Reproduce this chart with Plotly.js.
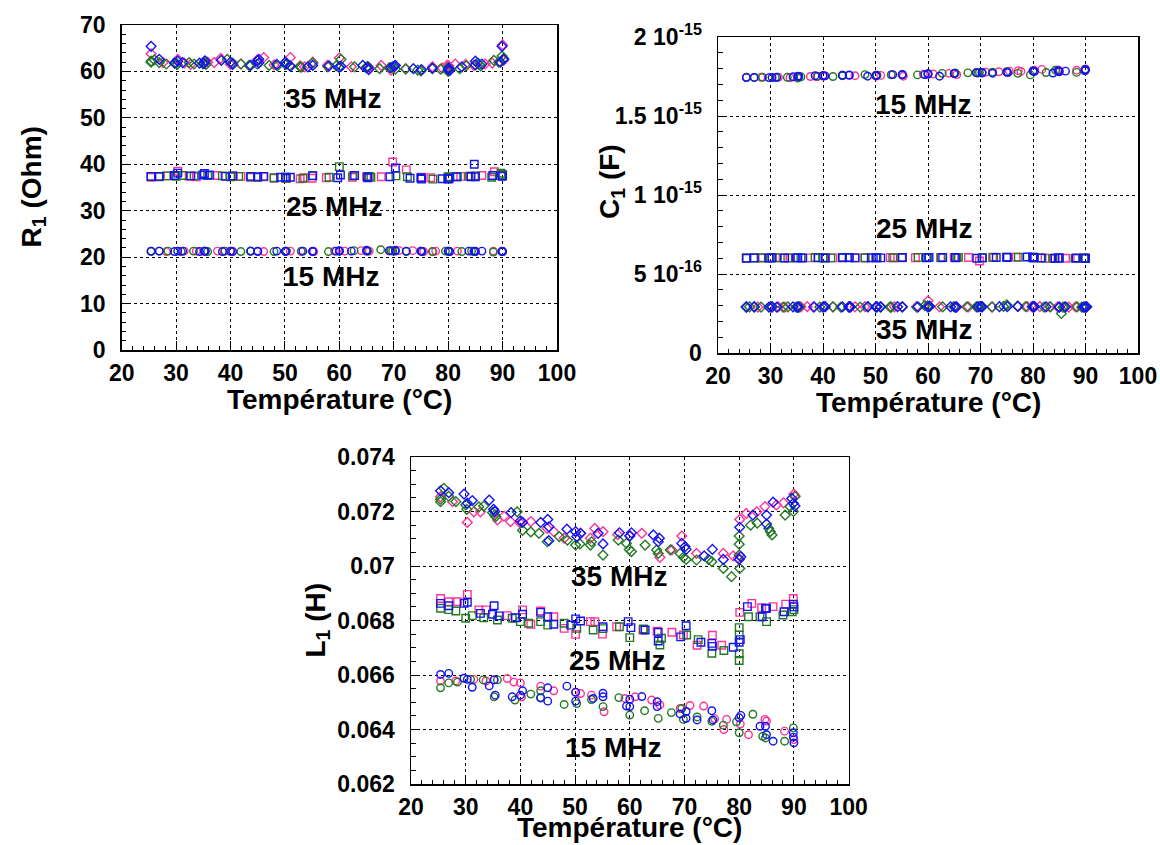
<!DOCTYPE html>
<html>
<head>
<meta charset="utf-8">
<script src="https://cdn.plot.ly/plotly-3.0.1.min.js"></script>
<style>html,body{margin:0;padding:0;background:#fff;}#chart{width:1160px;height:845px;}</style>
</head>
<body>
<div id="chart"></div>
<script>
// ---------- Temperatures (°C) per run (pink / green / blue) and frequency ----------
const T_pink_15  = [25.4, 28.2, 31.5, 33.7, 35.2, 37.6, 38.8, 40.0, 40.2, 43.7, 46.1, 50.1, 51.0, 53.0, 55.3, 59.1, 61.0, 64.0, 65.5, 69.2, 71.0, 73.5, 75.5, 77.2, 77.7, 80.2, 81.7, 85.0, 84.7, 88.3, 90.0];
const T_green_15 = [25.4, 26.9, 28.5, 30.9, 33.2, 35.2, 35.8, 39.0, 41.9, 43.7, 43.7, 48.0, 50.3, 53.0, 55.1, 58.0, 60.0, 62.7, 65.2, 67.6, 69.5, 69.8, 72.3, 75.0, 77.1, 79.5, 80.0, 82.5, 84.3, 84.8, 88.3, 89.9];
const T_blue_15  = [25.4, 26.9, 29.7, 30.3, 31.2, 34.3, 35.2, 35.4, 38.5, 40.0, 40.4, 43.7, 45.0, 45.0, 48.5, 50.1, 50.1, 53.3, 55.1, 55.1, 59.4, 60.0, 60.0, 62.2, 65.0, 65.0, 69.2, 70.3, 70.3, 72.3, 75.0, 75.2, 80.0, 80.3, 83.8, 84.8, 85.0, 86.2, 89.9, 89.9, 90.0];

const T_pink_25  = [25.4, 26.9, 28.5, 30.3, 32.4, 33.7, 37.6, 40.4, 41.9, 43.7, 46.1, 48.0, 50.1, 52.8, 53.6, 55.0, 57.6, 62.4, 65.0, 67.7, 69.8, 72.3, 75.1, 76.8, 80.1, 82.3, 84.1, 86.2, 88.5, 89.9];
const T_green_25 = [25.4, 26.9, 28.2, 30.0, 31.2, 33.3, 35.8, 38.5, 40.0, 41.5, 43.7, 45.0, 48.0, 50.3, 53.3, 55.1, 58.1, 60.0, 62.5, 65.8, 65.5, 70.4, 72.5, 75.0, 77.2, 80.0, 80.0, 80.0, 80.0, 81.7, 83.8, 85.0, 88.0, 89.7, 90.0];
const T_blue_25  = [25.4, 26.9, 29.7, 30.3, 32.7, 34.9, 35.2, 36.1, 39.1, 40.4, 43.7, 45.0, 46.1, 49.2, 50.1, 51.0, 55.1, 59.7, 60.2, 62.8, 65.2, 65.2, 69.3, 70.3, 73.0, 75.0, 75.1, 78.9, 80.0, 80.2, 81.5, 84.2, 84.8, 85.0, 88.2, 89.9, 90.0];

const T_pink_35  = [25.4, 27.6, 30.3, 31.5, 32.7, 35.8, 37.0, 38.2, 40.0, 41.9, 44.9, 46.1, 48.0, 51.0, 52.8, 53.6, 55.1, 57.8, 60.0, 62.2, 65.5, 67.7, 69.5, 72.2, 77.1, 78.9, 79.8, 80.1, 81.3, 83.2, 84.7, 86.8, 88.1, 90.0, 90.2];
const T_green_35 = [25.4, 25.4, 26.0, 26.9, 28.2, 30.0, 30.2, 32.4, 33.3, 34.9, 35.3, 35.5, 39.4, 40.4, 41.9, 43.4, 44.9, 47.1, 48.6, 50.1, 50.9, 52.8, 53.0, 55.1, 57.9, 59.4, 59.9, 60.3, 62.8, 64.9, 65.2, 67.4, 69.2, 69.8, 70.3, 72.2, 74.4, 75.0, 77.1, 78.6, 80.0, 80.0, 80.0, 80.1, 82.1, 83.3, 85.4, 85.7, 86.0, 88.4, 89.3, 89.9, 90.2];
const T_blue_35  = [25.4, 26.9, 29.7, 30.3, 31.2, 34.3, 35.1, 35.3, 38.3, 40.0, 40.4, 43.7, 45.0, 45.2, 45.2, 48.5, 50.1, 50.3, 51.0, 54.2, 55.1, 58.1, 60.0, 60.3, 64.3, 65.2, 65.4, 69.5, 70.1, 70.3, 73.6, 75.1, 77.1, 80.0, 80.1, 80.3, 82.5, 85.0, 85.0, 86.2, 89.6, 89.9, 90.2];

// ---------- R1 (Ohm) ----------
const R1_pink_15  = [21.3, 21.2, 21.3, 21.3, 21.2, 21.3, 21.3, 21.2, 21.3, 21.3, 21.2, 21.3, 21.3, 21.2, 21.2, 21.3, 21.3, 21.4, 21.3, 21.3, 21.4, 21.4, 21.2, 21.2, 21.3, 21.2, 21.3, 21.3, 21.2, 21.3, 21.2];
const R1_green_15 = [21.2, 21.3, 21.3, 21.2, 21.3, 21.3, 21.2, 21.3, 21.2, 21.3, 21.3, 21.2, 21.3, 21.3, 21.2, 21.2, 21.3, 21.4, 21.3, 21.6, 21.4, 21.3, 21.2, 21.3, 21.2, 21.3, 21.3, 21.2, 21.3, 21.2, 21.1, 21.2];
const R1_blue_15  = [21.3, 21.3, 21.2, 21.3, 21.3, 21.2, 21.3, 21.3, 21.2, 21.3, 21.2, 21.3, 21.3, 21.2, 21.3, 21.3, 21.2, 21.3, 21.3, 21.2, 21.3, 21.3, 21.4, 21.3, 21.5, 21.3, 21.4, 21.5, 21.3, 21.3, 21.3, 21.2, 21.3, 21.2, 21.3, 21.3, 21.2, 21.3, 21.2, 21.3, 21.2];
const R1_pink_25  = [37.2, 37.4, 37.5, 38.5, 37.4, 37.3, 37.6, 37.5, 37.4, 37.2, 37.3, 37.0, 37.0, 36.9, 37.1, 37.0, 37.1, 37.2, 37.3, 37.3, 40.5, 38.8, 37.2, 37.1, 37.0, 37.4, 37.5, 37.6, 38.4, 37.6];
const R1_green_25 = [37.4, 37.3, 37.5, 37.4, 37.6, 37.5, 37.6, 37.5, 37.3, 37.4, 37.3, 37.2, 37.1, 37.0, 37.0, 37.6, 37.2, 39.5, 37.5, 37.2, 37.4, 37.5, 37.3, 37.0, 36.8, 37.0, 36.9, 37.3, 37.2, 37.3, 37.4, 37.5, 37.2, 38.1, 37.8];
const R1_blue_25  = [37.4, 37.4, 37.6, 38.1, 37.5, 37.7, 38.0, 37.7, 37.4, 37.5, 37.4, 37.3, 37.4, 37.2, 37.2, 37.2, 37.5, 37.1, 37.7, 37.6, 37.1, 37.3, 37.3, 39.2, 37.0, 37.1, 36.8, 36.9, 36.8, 37.0, 37.3, 37.3, 40.0, 37.3, 37.6, 37.4, 37.5];
const R1_pink_35  = [63.8, 61.9, 62.6, 61.8, 61.5, 62.0, 61.9, 62.8, 61.5, 61.6, 62.5, 63.0, 61.4, 63.0, 61.2, 61.0, 62.0, 61.3, 62.9, 61.0, 60.8, 61.3, 60.3, 60.6, 61.0, 60.7, 61.3, 61.2, 61.6, 61.5, 61.3, 61.6, 61.8, 65.7, 62.4];
const R1_green_35 = [62.2, 62.0, 62.5, 61.9, 61.6, 61.8, 61.5, 61.9, 61.6, 61.7, 62.0, 61.5, 62.6, 61.8, 61.6, 61.3, 61.6, 61.3, 61.2, 61.5, 61.3, 61.0, 60.9, 61.8, 61.0, 61.2, 60.9, 62.6, 61.0, 60.8, 61.1, 60.6, 60.8, 61.0, 60.5, 60.5, 60.3, 60.1, 60.6, 60.5, 60.2, 60.8, 60.0, 60.3, 60.6, 61.2, 61.8, 61.5, 61.2, 62.4, 62.0, 63.3, 62.8];
const R1_blue_35  = [65.4, 62.6, 61.8, 62.2, 61.9, 61.8, 61.7, 62.3, 62.4, 62.0, 61.5, 61.3, 62.3, 61.8, 62.6, 61.5, 62.0, 61.6, 61.1, 61.0, 61.3, 61.2, 60.9, 61.1, 61.3, 60.9, 60.4, 60.8, 61.1, 61.3, 60.6, 60.4, 60.7, 60.4, 60.7, 60.2, 61.0, 62.2, 61.4, 61.6, 62.0, 65.4, 62.6];

// ---------- C1 (in units of 1e-15 F) ----------
const C1_pink_15  = [1.746, 1.745, 1.745, 1.742, 1.746, 1.750, 1.748, 1.752, 1.754, 1.756, 1.755, 1.752, 1.757, 1.762, 1.752, 1.765, 1.766, 1.770, 1.762, 1.775, 1.778, 1.780, 1.784, 1.787, 1.782, 1.790, 1.795, 1.788, 1.792, 1.790, 1.798];
const C1_green_15 = [1.745, 1.744, 1.745, 1.743, 1.745, 1.740, 1.748, 1.752, 1.750, 1.755, 1.758, 1.762, 1.758, 1.760, 1.762, 1.760, 1.768, 1.770, 1.772, 1.773, 1.772, 1.775, 1.778, 1.780, 1.770, 1.760, 1.782, 1.775, 1.790, 1.784, 1.776, 1.795];
const C1_blue_15  = [1.743, 1.744, 1.743, 1.744, 1.745, 1.748, 1.752, 1.750, 1.755, 1.756, 1.754, 1.758, 1.760, 1.757, 1.752, 1.758, 1.755, 1.762, 1.760, 1.763, 1.762, 1.768, 1.764, 1.752, 1.768, 1.770, 1.774, 1.776, 1.772, 1.771, 1.778, 1.775, 1.785, 1.782, 1.772, 1.786, 1.780, 1.784, 1.790, 1.786, 1.793];
const C1_pink_25  = [0.601, 0.602, 0.601, 0.603, 0.602, 0.601, 0.602, 0.603, 0.602, 0.604, 0.603, 0.601, 0.603, 0.604, 0.603, 0.602, 0.603, 0.604, 0.605, 0.604, 0.582, 0.604, 0.605, 0.607, 0.603, 0.600, 0.599, 0.600, 0.600, 0.601];
const C1_green_25 = [0.602, 0.601, 0.603, 0.602, 0.603, 0.602, 0.603, 0.604, 0.603, 0.602, 0.604, 0.603, 0.603, 0.604, 0.603, 0.604, 0.605, 0.604, 0.603, 0.605, 0.604, 0.603, 0.606, 0.607, 0.606, 0.606, 0.605, 0.604, 0.602, 0.601, 0.600, 0.601, 0.599, 0.601, 0.600];
const C1_blue_25  = [0.600, 0.602, 0.601, 0.603, 0.601, 0.602, 0.603, 0.601, 0.602, 0.601, 0.603, 0.604, 0.602, 0.603, 0.603, 0.602, 0.604, 0.603, 0.605, 0.604, 0.604, 0.602, 0.600, 0.602, 0.604, 0.606, 0.605, 0.608, 0.606, 0.603, 0.602, 0.600, 0.601, 0.602, 0.601, 0.600, 0.599];
const C1_pink_35  = [0.292, 0.291, 0.293, 0.292, 0.291, 0.292, 0.293, 0.291, 0.292, 0.292, 0.291, 0.292, 0.293, 0.292, 0.291, 0.292, 0.292, 0.293, 0.330, 0.292, 0.291, 0.292, 0.293, 0.291, 0.296, 0.294, 0.293, 0.292, 0.294, 0.293, 0.292, 0.291, 0.292, 0.293, 0.292];
const C1_green_35 = [0.291, 0.290, 0.292, 0.290, 0.291, 0.292, 0.290, 0.291, 0.292, 0.291, 0.290, 0.292, 0.291, 0.293, 0.292, 0.291, 0.292, 0.291, 0.293, 0.292, 0.292, 0.292, 0.291, 0.292, 0.290, 0.300, 0.298, 0.295, 0.292, 0.293, 0.291, 0.292, 0.292, 0.294, 0.293, 0.292, 0.295, 0.305, 0.296, 0.294, 0.293, 0.292, 0.294, 0.293, 0.291, 0.292, 0.250, 0.290, 0.291, 0.292, 0.290, 0.291, 0.292];
const C1_blue_35  = [0.292, 0.293, 0.291, 0.292, 0.291, 0.292, 0.291, 0.292, 0.292, 0.291, 0.293, 0.292, 0.292, 0.293, 0.291, 0.292, 0.291, 0.292, 0.292, 0.293, 0.292, 0.292, 0.291, 0.296, 0.292, 0.291, 0.292, 0.292, 0.293, 0.292, 0.293, 0.294, 0.295, 0.293, 0.292, 0.294, 0.292, 0.290, 0.291, 0.292, 0.291, 0.291, 0.292];

// ---------- L1 (H) ----------
const L1_pink_15  = [0.06578, 0.06578, 0.06584, 0.06578, 0.06582, 0.06587, 0.06574, 0.06571, 0.06519, 0.06559, 0.06542, 0.06536, 0.06532, 0.06526, 0.06465, 0.06514, 0.0652, 0.06508, 0.0649, 0.06477, 0.06488, 0.06486, 0.0644, 0.064, 0.06437, 0.0642, 0.06381, 0.06431, 0.06437, 0.06394, 0.06363];
const L1_green_15 = [0.06553, 0.06571, 0.06574, 0.06584, 0.06582, 0.0652, 0.06582, 0.06508, 0.0653, 0.06542, 0.06515, 0.06492, 0.06495, 0.0651, 0.06484, 0.06517, 0.06453, 0.06469, 0.06441, 0.06462, 0.06477, 0.06437, 0.06446, 0.0643, 0.06416, 0.06428, 0.06388, 0.06456, 0.06375, 0.06369, 0.06357, 0.06406];
const L1_blue_15  = [0.06602, 0.06606, 0.06588, 0.06584, 0.06555, 0.0656, 0.06582, 0.06526, 0.0652, 0.06526, 0.06542, 0.06517, 0.06553, 0.06504, 0.06559, 0.06537, 0.06504, 0.06514, 0.06533, 0.0652, 0.06486, 0.06511, 0.06484, 0.06521, 0.06502, 0.06484, 0.06457, 0.06466, 0.06441, 0.06435, 0.06469, 0.06435, 0.06443, 0.06452, 0.06412, 0.06412, 0.06381, 0.06357, 0.06388, 0.06372, 0.06351];
const L1_pink_25  = [0.06881, 0.06869, 0.06869, 0.06896, 0.06839, 0.06839, 0.06818, 0.06839, 0.06786, 0.06835, 0.06814, 0.06771, 0.06749, 0.06796, 0.06796, 0.0675, 0.06777, 0.06765, 0.06761, 0.06757, 0.06747, 0.06709, 0.06746, 0.06709, 0.0683, 0.06863, 0.06847, 0.06851, 0.0686, 0.06881];
const L1_green_25 = [0.06845, 0.0684, 0.06835, 0.06808, 0.06818, 0.0681, 0.06802, 0.06808, 0.06796, 0.0679, 0.06796, 0.06783, 0.0679, 0.06771, 0.06765, 0.0677, 0.06777, 0.06737, 0.06769, 0.06735, 0.0671, 0.06747, 0.0673, 0.0668, 0.0669, 0.06774, 0.06747, 0.06678, 0.06653, 0.06814, 0.06814, 0.06796, 0.0682, 0.06832, 0.0684];
const L1_blue_25  = [0.06863, 0.06854, 0.06863, 0.06867, 0.06826, 0.06823, 0.06854, 0.06817, 0.0681, 0.06823, 0.0683, 0.06814, 0.06786, 0.06783, 0.06806, 0.06798, 0.06777, 0.06796, 0.06774, 0.06765, 0.06757, 0.06725, 0.0674, 0.06781, 0.0672, 0.06716, 0.06705, 0.06702, 0.0672, 0.0673, 0.06851, 0.06814, 0.06844, 0.06845, 0.06832, 0.0686, 0.0685];
const L1_pink_35  = [0.07254, 0.07236, 0.0716, 0.07199, 0.07199, 0.07169, 0.07183, 0.07163, 0.07157, 0.07163, 0.07138, 0.07126, 0.07102, 0.0712, 0.07102, 0.07138, 0.07126, 0.07115, 0.07112, 0.0712, 0.07032, 0.07059, 0.0711, 0.07046, 0.07046, 0.07037, 0.0703, 0.07171, 0.07193, 0.07199, 0.07218, 0.07224, 0.07232, 0.07264, 0.07257];
const L1_green_35 = [0.07245, 0.07236, 0.07285, 0.07256, 0.07236, 0.07224, 0.07208, 0.07217, 0.0722, 0.07196, 0.07187, 0.07181, 0.07199, 0.07131, 0.07125, 0.0712, 0.07089, 0.07108, 0.07095, 0.07077, 0.07081, 0.07077, 0.07089, 0.0704, 0.07095, 0.07083, 0.07061, 0.07053, 0.07077, 0.07059, 0.07046, 0.07059, 0.07046, 0.07032, 0.07024, 0.07022, 0.07024, 0.07016, 0.06991, 0.06961, 0.0711, 0.0708, 0.0704, 0.06991, 0.0715, 0.07157, 0.07138, 0.07126, 0.07114, 0.07187, 0.07218, 0.072, 0.07255];
const L1_blue_35  = [0.07276, 0.07269, 0.07264, 0.0723, 0.0724, 0.07242, 0.07208, 0.0720, 0.07196, 0.07166, 0.0716, 0.0716, 0.07171, 0.07144, 0.07093, 0.07135, 0.07126, 0.07108, 0.0712, 0.0712, 0.07081, 0.07122, 0.0711, 0.07122, 0.07114, 0.07089, 0.07102, 0.07083, 0.07071, 0.07061, 0.07037, 0.07061, 0.07024, 0.07024, 0.07142, 0.07034, 0.07187, 0.07154, 0.07187, 0.07234, 0.07248, 0.0723, 0.0722];

// ---------- labels ----------
const freqLabels = ['15 MHz', '25 MHz', '35 MHz'];
const xTickVals = [20, 30, 40, 50, 60, 70, 80, 90, 100];
const r1TickVals = [0, 10, 20, 30, 40, 50, 60, 70];
const c1TickVals = [0, 0.5, 1, 1.5, 2];
const c1TickText = ['0', '5 10<sup>-16</sup>', '1 10<sup>-15</sup>', '1.5 10<sup>-15</sup>', '2 10<sup>-15</sup>'];
const l1TickVals = [0.062, 0.064, 0.066, 0.068, 0.07, 0.072, 0.074];
const l1TickText = ['0.062', '0.064', '0.066', '0.068', '0.07', '0.072', '0.074'];
const xTitle = 'Température (°C)';

// ---------- styles ----------
const COLORS = { pink: '#ff3399', green: '#237a23', blue: '#1414f0' };
const SYMBOLS = { '15': 'circle-open', '25': 'square-open', '35': 'diamond-open' };
const SIZES = { '15': 7.5, '25': 7.5, '35': 7.5 };
const FONT = 'Liberation Sans, Arial, Helvetica, sans-serif';

const groups = [
  { ax: ['x', 'y'],  f: '15', sets: [['pink', T_pink_15, R1_pink_15], ['green', T_green_15, R1_green_15], ['blue', T_blue_15, R1_blue_15]] },
  { ax: ['x', 'y'],  f: '25', sets: [['pink', T_pink_25, R1_pink_25], ['green', T_green_25, R1_green_25], ['blue', T_blue_25, R1_blue_25]] },
  { ax: ['x', 'y'],  f: '35', sets: [['pink', T_pink_35, R1_pink_35], ['green', T_green_35, R1_green_35], ['blue', T_blue_35, R1_blue_35]] },
  { ax: ['x2', 'y2'], f: '15', sets: [['pink', T_pink_15, C1_pink_15], ['green', T_green_15, C1_green_15], ['blue', T_blue_15, C1_blue_15]] },
  { ax: ['x2', 'y2'], f: '25', sets: [['pink', T_pink_25, C1_pink_25], ['green', T_green_25, C1_green_25], ['blue', T_blue_25, C1_blue_25]] },
  { ax: ['x2', 'y2'], f: '35', sets: [['pink', T_pink_35, C1_pink_35], ['green', T_green_35, C1_green_35], ['blue', T_blue_35, C1_blue_35]] },
  { ax: ['x3', 'y3'], f: '15', sets: [['pink', T_pink_15, L1_pink_15], ['green', T_green_15, L1_green_15], ['blue', T_blue_15, L1_blue_15]] },
  { ax: ['x3', 'y3'], f: '25', sets: [['pink', T_pink_25, L1_pink_25], ['green', T_green_25, L1_green_25], ['blue', T_blue_25, L1_blue_25]] },
  { ax: ['x3', 'y3'], f: '35', sets: [['pink', T_pink_35, L1_pink_35], ['green', T_green_35, L1_green_35], ['blue', T_blue_35, L1_blue_35]] }
];

const traces = [];
groups.forEach(g => {
  g.sets.forEach(s => {
    traces.push({
      type: 'scatter', mode: 'markers',
      x: s[1], y: s[2], xaxis: g.ax[0], yaxis: g.ax[1],
      showlegend: false, hoverinfo: 'x+y',
      marker: { symbol: SYMBOLS[g.f], size: SIZES[g.f], color: COLORS[s[0]],
                line: { color: COLORS[s[0]], width: 1.4 } }
    });
  });
});

const W = 1160, H = 845;
function px(x) { return x / W; }
function py(y) { return 1 - y / H; }

function xaxisDef(x0, x1, anchor) {
  return {
    domain: [px(x0), px(x1)], anchor: anchor, range: [20, 100],
    tickvals: xTickVals, ticks: 'inside', ticklen: 9, tickwidth: 1, tickcolor: '#000',
    showline: true, mirror: true, linecolor: '#000', linewidth: 1.5,
    showgrid: true, gridcolor: '#000', griddash: 'dot', gridwidth: 1, zeroline: false,
    minor: { dtick: 2, ticks: 'inside', ticklen: 4.5, tickcolor: '#000', tickwidth: 1, showgrid: false },
    tickfont: { family: FONT, size: 23, color: '#000', weight: 'bold' },
    ticklabelstandoff: 2, fixedrange: true
  };
}
function yaxisDef(y0, y1, range, tv, tt, minorDtick, anchor) {
  const a = {
    domain: [py(y1), py(y0)], anchor: anchor, range: range,
    tickvals: tv, ticks: 'inside', ticklen: 9, tickwidth: 1, tickcolor: '#000',
    showline: true, mirror: true, linecolor: '#000', linewidth: 1.5,
    showgrid: true, gridcolor: '#000', griddash: 'dot', gridwidth: 1, zeroline: false,
    minor: { dtick: minorDtick, ticks: 'inside', ticklen: 4.5, tickcolor: '#000', tickwidth: 1, showgrid: false },
    tickfont: { family: FONT, size: 23, color: '#000', weight: 'bold' },
    ticklabelstandoff: 10, fixedrange: true
  };
  if (tt) a.ticktext = tt;
  return a;
}

// plot boxes (pixels)
const P1 = [121.7, 557, 25, 350];
const P2 = [718, 1138, 37, 353];
const P3 = [411, 848.6, 457, 784];

const annFont = { family: FONT, size: 28, color: '#000', weight: 'bold' };
function note(text, x, y, xref, yref) {
  return { text: text, x: x, y: y, xref: xref, yref: yref, showarrow: false,
           font: annFont, xanchor: 'center', yanchor: 'middle' };
}
function title(text, x, y, angle) {
  return { text: text, x: px(x), y: py(y), xref: 'paper', yref: 'paper', showarrow: false,
           font: annFont, xanchor: 'center', yanchor: 'middle', textangle: angle || 0 };
}

const annotations = [
  note(freqLabels[2], 58.9, 54.2, 'x', 'y'),
  note(freqLabels[1], 59.0, 31.0, 'x', 'y'),
  note(freqLabels[0], 58.5, 15.8, 'x', 'y'),
  note(freqLabels[0], 59.1, 1.572, 'x2', 'y2'),
  note(freqLabels[1], 59.2, 0.785, 'x2', 'y2'),
  note(freqLabels[2], 59.2, 0.15, 'x2', 'y2'),
  note(freqLabels[2], 58.0, 0.06962, 'x3', 'y3'),
  note(freqLabels[1], 57.6, 0.06653, 'x3', 'y3'),
  note(freqLabels[0], 57.0, 0.06335, 'x3', 'y3'),
  title(xTitle, (P1[0] + P1[1]) / 2, 399),
  title(xTitle, (P2[0] + P2[1]) / 2, 402),
  title(xTitle, (P3[0] + P3[1]) / 2, 827),
  title('R<sub>1</sub> (Ohm)', 33, (P1[2] + P1[3]) / 2, -90),
  title('C<sub>1</sub> (F)', 611, 182, -90),
  title('L<sub>1</sub> (H)', 317, (P3[2] + P3[3]) / 2, -90)
];

const layout = {
  width: W, height: H,
  margin: { l: 0, r: 0, t: 0, b: 0 },
  paper_bgcolor: '#fff', plot_bgcolor: '#fff',
  showlegend: false,
  font: { family: FONT, color: '#000' },
  xaxis:  xaxisDef(P1[0], P1[1], 'y'),
  yaxis:  yaxisDef(P1[2], P1[3], [0, 70], r1TickVals, null, 2, 'x'),
  xaxis2: xaxisDef(P2[0], P2[1], 'y2'),
  yaxis2: yaxisDef(P2[2], P2[3], [0, 2], c1TickVals, c1TickText, 0.1, 'x2'),
  xaxis3: xaxisDef(P3[0], P3[1], 'y3'),
  yaxis3: yaxisDef(P3[2], P3[3], [0.062, 0.074], l1TickVals, l1TickText, 0.0005, 'x3'),
  annotations: annotations
};

Plotly.newPlot('chart', traces, layout, { displayModeBar: false, staticPlot: true });
</script>
</body>
</html>
